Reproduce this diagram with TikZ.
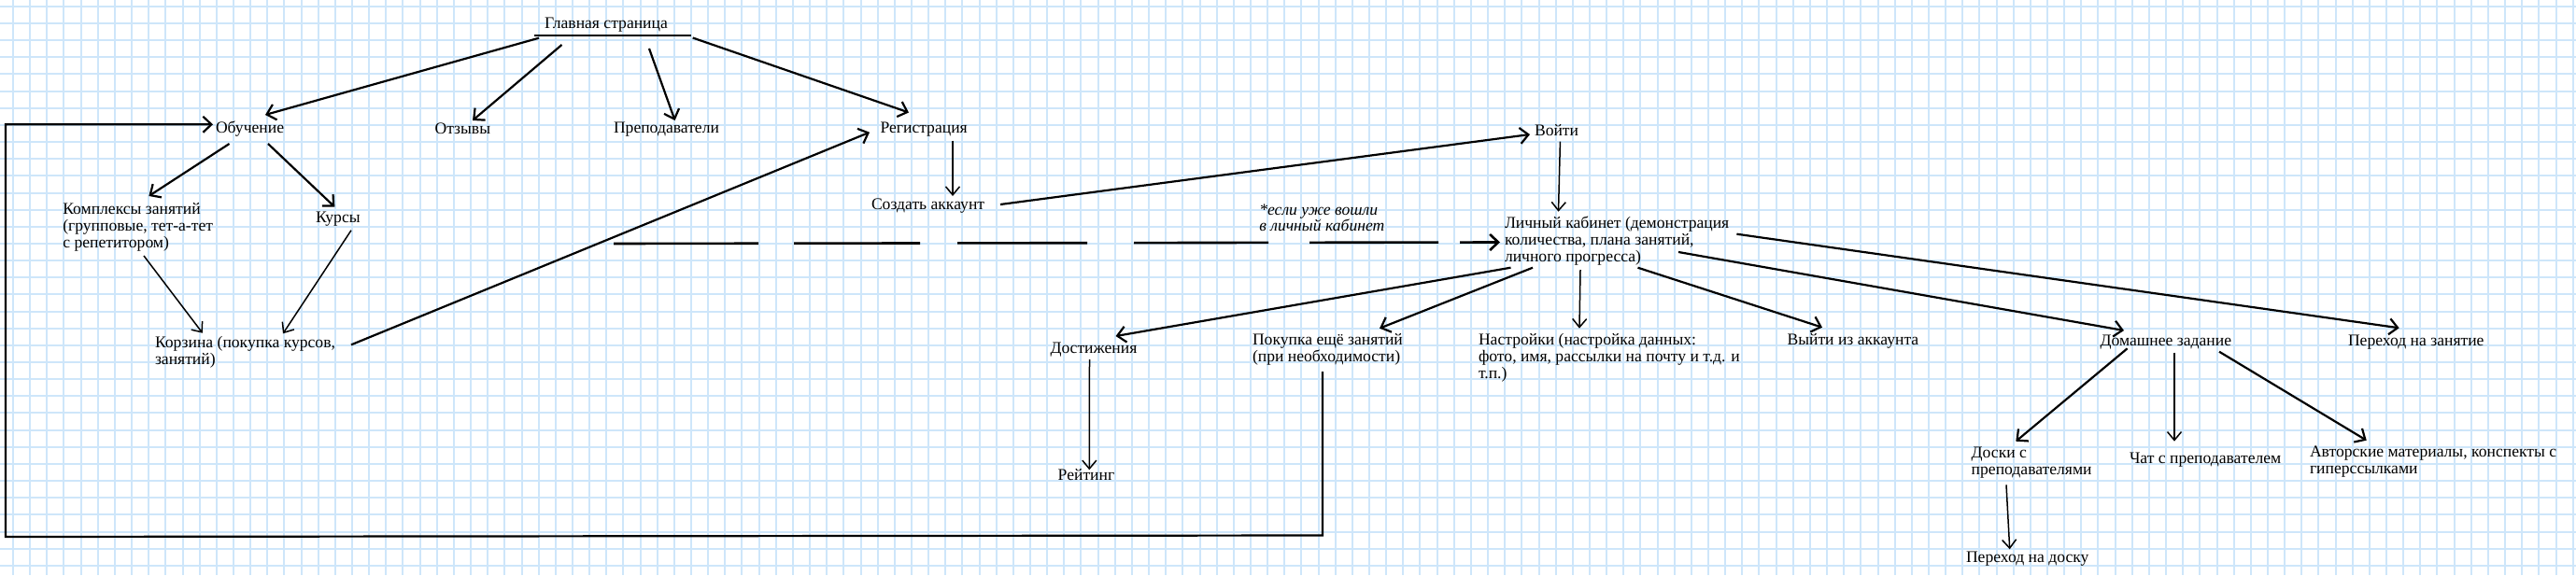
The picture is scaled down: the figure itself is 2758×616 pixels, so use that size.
\documentclass[tikz,border=0pt]{standalone}
\usepackage{fontspec}
\setmainfont{Liberation Serif}
\usetikzlibrary{arrows.meta,calc}
\definecolor{gridblue}{RGB}{206,230,250}
\tikzset{
  lbl/.style={anchor=base west,inner sep=0pt,outer sep=0pt,align=left,font=\fontsize{17.6}{18}\selectfont},
  arr/.style={line width=2.2pt,-{Straight Barb[length=9pt,width=17pt]}},
  thinarr/.style={line width=1.5pt,-{Straight Barb[length=9pt,width=15pt]}},
  gridline/.style={gridblue,line width=2pt}
}
\begin{document}
\begin{tikzpicture}[x=1pt,y=-1pt]
\useasboundingbox (0,0) rectangle (2758,616);
\fill[white] (0,0) rectangle (2758,616);
\foreach \k in {-1,...,151} \draw[gridline] ({14+18.15*\k},0) -- ({14+18.15*\k},616);
\foreach \k in {-1,...,32} \draw[gridline] (0,{25+18.15*\k}) -- (2758,{25+18.15*\k});

% nodes (multi-line nodes are placed by the baseline of their last line)
\node[lbl] (glav) at (583,30) {Главная страница};
\node[lbl] (obuch) at (231,142) {Обучение};
\node[lbl] (otz) at (465.6,143) {Отзывы};
\node[lbl] (prep) at (657,142) {Преподаватели};
\node[lbl] (reg) at (942.5,142) {Регистрация};
\node[lbl] (kompl) at (67.3,265) {Комплексы занятий\\(групповые, тет-а-тет\\с репетитором)};
\node[lbl] (kursy) at (338,238) {Курсы};
\node[lbl] (korz) at (166,390) {Корзина (покупка курсов,\\занятий)};
\node[lbl] (sozd) at (933,224.5) {Создать аккаунт};
\node[lbl] (voiti) at (1643,145) {Войти};
\node[lbl] (lk) at (1611,280) {Личный кабинет (демонстрация\\количества, плана занятий,\\личного прогресса)};
\node[lbl,font=\fontsize{17.6}{16.6}\selectfont\itshape] (note) at (1348.3,247.3) {*если уже вошли\\в личный кабинет};
\node[lbl] (dost) at (1124.5,378) {Достижения};
\node[lbl] (pokup) at (1341,387.5) {Покупка ещё занятий\\(при необходимости)};
\node[lbl] (nastr) at (1583,405) {Настройки (настройка данных:\\фото, имя, рассылки на почту и т.д. и\\т.п.)};
\node[lbl] (vyiti) at (1913.5,369) {Выйти из аккаунта};
\node[lbl] (dz) at (2248.6,370) {Домашнее задание};
\node[lbl] (perz) at (2514,370) {Переход на занятие};
\node[lbl] (reit) at (1132.7,514) {Рейтинг};
\node[lbl] (doski) at (2110.7,508.5) {Доски с\\преподавателями};
\node[lbl] (chat) at (2280,496.5) {Чат с преподавателем};
\node[lbl] (avt) at (2473,507) {Авторские материалы, конспекты с\\гиперссылками};
\node[lbl] (perd) at (2105,602) {Переход на доску};

\coordinate (dstart) at (657,261);
\coordinate (loopA) at (1416,573.5);
\coordinate (loopB) at (6,575);

% underline of main page
\draw[line width=2.6pt] ($(glav.base west)+(-11,8)$) -- ($(glav.base west)+(157,8)$);

% connectors
\draw[arr] ($(glav.base west)+(-6,10.7)$) -- ($(obuch.base west)+(53,-19)$);
\draw[arr] ($(glav.base west)+(18.5,18)$) -- ($(otz.base west)+(40.4,-14)$);
\draw[arr] ($(glav.base west)+(112,22)$) -- ($(prep.base west)+(65.6,-13)$);
\draw[arr] ($(glav.base west)+(158.7,10.5)$) -- ($(reg.base west)+(30.5,-21.5)$);
\draw[arr] ($(obuch.base west)+(14.5,12)$) -- ($(kompl.base west)+(92.1,-55)$);
\draw[arr] ($(obuch.base west)+(56,12)$) -- ($(kursy.base west)+(20.4,-16.3)$);
\draw[thinarr] ($(kompl.base west)+(86.7,9)$) -- ($(korz.base west)+(50.8,-33.3)$);
\draw[thinarr] ($(kursy.base west)+(38,8.7)$) -- ($(korz.base west)+(137,-32.7)$);
\draw[arr] ($(korz.base west)+(210,-20.7)$) -- ($(reg.base west)+(-11.5,-0.3)$);
\draw[thinarr] ($(reg.base west)+(77.5,8.7)$) -- ($(sozd.base west)+(87,-14.5)$);
\draw[arr] ($(sozd.base west)+(138,-5.5)$) -- ($(voiti.base west)+(-5,-1)$);
\draw[thinarr] ($(voiti.base west)+(27.4,6.7)$) -- ($(lk.base west)+(57.5,-53.3)$);
\draw[line width=2.6pt,dash pattern=on 155pt off 38pt on 135pt off 40pt on 139pt off 50pt on 144pt off 44pt on 138pt off 23pt on 60pt,-{Straight Barb[length=9pt,width=17pt]}] (dstart) -- ($(lk.base west)+(-5,-20.5)$);
\draw[arr] ($(lk.base west)+(6.5,6.7)$) -- ($(dost.base west)+(70.1,-18)$);
\draw[arr] ($(lk.base west)+(30,6.7)$) -- ($(pokup.base west)+(136,-35.8)$);
\draw[thinarr] ($(lk.base west)+(81,9)$) -- ($(nastr.base west)+(108,-53.3)$);
\draw[arr] ($(lk.base west)+(142.5,6.7)$) -- ($(vyiti.base west)+(37.5,-18.3)$);
\draw[arr] ($(lk.base west)+(186,-10)$) -- ($(dz.base west)+(25.4,-16)$);
\draw[arr] ($(lk.base west)+(248.4,-29.3)$) -- ($(perz.base west)+(54.7,-18.7)$);
\draw[thinarr] ($(dost.base west)+(42,7)$) -- ($(reit.base west)+(33.6,-10.7)$);
\draw[arr] ($(pokup.base west)+(75,10.5)$) -- (loopA) -- (loopB) |- ($(obuch.base west)+(-3,-8.7)$);
\draw[arr] ($(dz.base west)+(29,3.3)$) -- ($(doski.base west)+(47.6,-35.8)$);
\draw[thinarr] ($(dz.base west)+(79.4,7.7)$) -- ($(chat.base west)+(48,-23.8)$);
\draw[arr] ($(dz.base west)+(127.4,6.7)$) -- ($(avt.base west)+(60.7,-35.3)$);
\draw[thinarr] ($(doski.base west)+(37.3,10.8)$) -- ($(perd.base west)+(46.7,-13.7)$);
\end{tikzpicture}
\end{document}
